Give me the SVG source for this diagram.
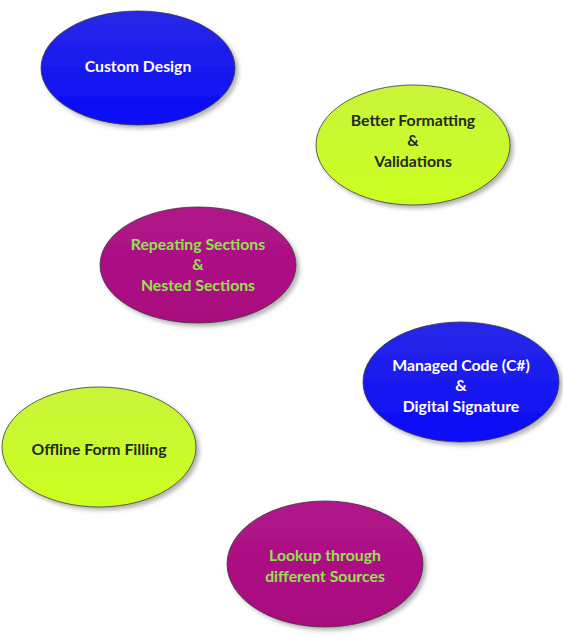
<svg xmlns="http://www.w3.org/2000/svg" width="563" height="636" viewBox="0 0 563 636">
<style>
.node ellipse{stroke:#3a3a3a;stroke-width:0.8;filter:url(#sh)}
.t{font-family:Lato,"Liberation Sans",sans-serif;font-weight:bold;font-size:15.8px;text-anchor:middle}
.w{fill:#ffffff}
.d{fill:#1f2a1a}
.g{fill:#96e050}
</style>
<defs>
<filter id="sh" x="-20%" y="-20%" width="150%" height="150%">
<feDropShadow dx="3" dy="3" stdDeviation="2" flood-color="#000" flood-opacity="0.3"/>
</filter>
<linearGradient id="blue" x1="0" y1="0" x2="0" y2="1">
<stop offset="0" stop-color="#2828e8"/><stop offset="1" stop-color="#0a0af8"/>
</linearGradient>
<linearGradient id="lime" x1="0" y1="0" x2="0" y2="1">
<stop offset="0" stop-color="#c8f53a"/><stop offset="1" stop-color="#ccff22"/>
</linearGradient>
<linearGradient id="mag" x1="0" y1="0" x2="0" y2="1">
<stop offset="0" stop-color="#b0168a"/><stop offset="1" stop-color="#a8087e"/>
</linearGradient>
</defs>
<rect width="563" height="636" fill="#ffffff"/>
<g id="connectors"></g>
<g id="n-custom" class="node">
<ellipse cx="138" cy="68" rx="97" ry="57" fill="url(#blue)"/>
<text class="t w" x="138" y="72">Custom Design</text>
</g>
<g id="n-formatting" class="node">
<ellipse cx="413" cy="145" rx="97" ry="60" fill="url(#lime)"/>
<text class="t d" x="413" y="126">Better Formatting</text>
<text class="t d" x="413" y="146">&amp;</text>
<text class="t d" x="413" y="167">Validations</text>
</g>
<g id="n-repeating" class="node">
<ellipse cx="198" cy="265" rx="98" ry="58" fill="url(#mag)"/>
<text class="t g" x="198" y="250">Repeating Sections</text>
<text class="t g" x="198" y="270">&amp;</text>
<text class="t g" x="198" y="291">Nested Sections</text>
</g>
<g id="n-managed" class="node">
<ellipse cx="461" cy="382" rx="98" ry="60" fill="url(#blue)"/>
<text class="t w" x="461" y="371">Managed Code (C#)</text>
<text class="t w" x="461" y="391">&amp;</text>
<text class="t w" x="461" y="412">Digital Signature</text>
</g>
<g id="n-offline" class="node">
<ellipse cx="99" cy="447" rx="97" ry="60" fill="url(#lime)"/>
<text class="t d" x="99" y="455">Offline Form Filling</text>
</g>
<g id="n-lookup" class="node">
<ellipse cx="325" cy="564" rx="98" ry="63" fill="url(#mag)"/>
<text class="t g" x="325" y="561">Lookup through</text>
<text class="t g" x="325" y="582">different Sources</text>
</g>
</svg>
